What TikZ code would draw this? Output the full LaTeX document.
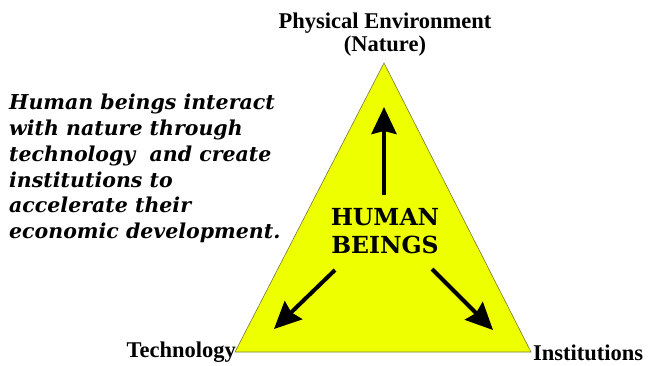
\documentclass[tikz,border=0pt]{standalone}
\usepackage{fontspec}
\setmainfont{Liberation Serif}
\newfontfamily\notefont{DejaVu Serif}
\usetikzlibrary{arrows.meta}
\definecolor{triyellow}{RGB}{238,255,0}
\definecolor{triedge}{RGB}{120,120,60}
\begin{document}
\begin{tikzpicture}[x=1pt,y=-1pt,
  corner/.style={font=\bfseries\fontsize{22.5}{24}\selectfont, inner sep=0pt},
  note/.style={font=\notefont\bfseries\itshape\fontsize{20.5}{25.8}\selectfont, align=left, inner sep=0pt, anchor=north west},
  centre/.style={font=\notefont\bfseries\fontsize{23.5}{28}\selectfont, align=center, inner sep=0pt},
  flow/.style={line width=4pt, -{Stealth[length=27pt,width=25pt,inset=3pt]}}]
  \useasboundingbox (0,0) rectangle (659,365);
  % triangle corners
  \coordinate (apex) at (384,63);
  \coordinate (bl) at (235,352);
  \coordinate (br) at (531,352);
  \fill[triyellow, draw=triedge, line width=0.6pt] (apex) -- (bl) -- (br) -- cycle;
  % corner labels
  \node[corner, align=center] (nature) at (385,35) {Physical Environment\\[-1pt](Nature)};
  \node[corner, anchor=east] (tech) at (236,352) {Technology};
  \node[corner, anchor=west] (inst) at (533,353) {Institutions};
  % explanatory note
  \node[note] (text) at (9,94) {Human beings interact\\with nature through\\technology\ \ and create\\institutions to\\accelerate their\\economic development.};
  % centre
  \node[centre] (human) at (385,231) {HUMAN\\BEINGS};
  \coordinate (upend) at (384,107);
  \coordinate (leftend) at (274,329);
  \coordinate (rightend) at (493,330);
  \coordinate (upstart) at (384,195);
  \coordinate (leftstart) at (335,270);
  \coordinate (rightstart) at (432,269);
  \draw[flow] (upstart) -- (upend);
  \draw[flow] (leftstart) -- (leftend);
  \draw[flow] (rightstart) -- (rightend);
\end{tikzpicture}
\end{document}
